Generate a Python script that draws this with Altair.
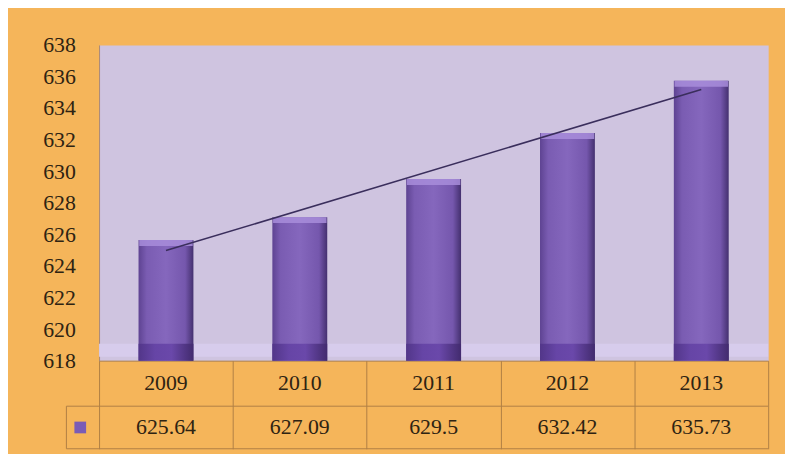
import altair as alt
import pandas as pd

# ---- data ----
years = ["2009", "2010", "2011", "2012", "2013"]
values = [625.64, 627.09, 629.5, 632.42, 635.73]
order = [1, 2, 3, 4, 5]
y_ticks = [618, 620, 622, 624, 626, 628, 630, 632, 634, 636, 638]
y_min, y_max = 618, 638

df = pd.DataFrame({
    "year": years,
    "value": values,
    "idx": order,
    "label": [f"{v:g}" for v in values],
})

W, H = 676, 319
FONT = "Liberation Serif"
TXT = "#2E2312"
GRID = "#B07F45"
ORANGE = "#F5B55A"
LAVENDER = "#CFC4E0"
ROW1 = 46      # height of the year row
ROW2 = 43      # height of the value row

base = alt.Chart(df)

x_enc = alt.X(
    "year:N",
    sort=years,
    scale=alt.Scale(paddingInner=0, paddingOuter=0),
    axis=alt.Axis(
        title=None, labels=False, domain=True, domainColor=GRID, domainWidth=1,
        ticks=True, tickBand="extent", tickSize=ROW1 + ROW2,
        tickColor=GRID, tickWidth=1,
    ),
)
y_enc = alt.Y(
    "value:Q",
    scale=alt.Scale(domain=[y_min, y_max], zero=False, nice=False),
    axis=alt.Axis(
        title=None, values=y_ticks, domain=True, domainColor="#A88A78", domainWidth=1,
        ticks=False, grid=False, labelOverlap=False,
        labelPadding=24, labelFont=FONT, labelFontSize=22, labelColor=TXT,
    ),
)

bar_fill = alt.Gradient(
    gradient="linear",
    stops=[
        alt.GradientStop(color="#5E4392", offset=0),
        alt.GradientStop(color="#7A5CB2", offset=0.15),
        alt.GradientStop(color="#8567BD", offset=0.5),
        alt.GradientStop(color="#7557AD", offset=0.85),
        alt.GradientStop(color="#44306F", offset=1),
    ],
    x1=0, x2=1, y1=0, y2=0,
)
foot_fill = alt.Gradient(
    gradient="linear",
    stops=[
        alt.GradientStop(color="#523689", offset=0),
        alt.GradientStop(color="#6645A6", offset=0.3),
        alt.GradientStop(color="#6A48AA", offset=0.6),
        alt.GradientStop(color="#422B6E", offset=1),
    ],
    x1=0, x2=1, y1=0, y2=0,
)

one = alt.Chart(pd.DataFrame({"k": [0]}))

floor = one.mark_rect(color="#D7CCEC").encode(
    x=alt.value(0), x2=alt.value(W), y=alt.value(H - 17), y2=alt.value(H - 4)
)

bars = base.mark_bar(width=alt.RelativeBandSize(0.41), fill=bar_fill).encode(
    x=x_enc, y=y_enc, y2=alt.datum(y_min)
)

feet = base.mark_bar(width=alt.RelativeBandSize(0.41), fill=foot_fill).encode(
    x=x_enc, y=alt.value(H - 17), y2=alt.value(H)
)

tops = base.mark_tick(thickness=6, size=54, yOffset=3, color="#A88DDA", opacity=0.85).encode(
    x=x_enc, y=y_enc
)

trend = (
    base.transform_regression("idx", "value")
    .transform_lookup(lookup="idx", from_=alt.LookupData(df, "idx", ["year"]))
    .mark_line(color="#3A2E5C", strokeWidth=1.6)
    .encode(x=x_enc, y=y_enc)
)

year_text = base.mark_text(font=FONT, fontSize=22, color=TXT, baseline="middle").encode(
    x=x_enc, y=alt.value(H + ROW1 / 2), text="year:N"
)
value_text = base.mark_text(font=FONT, fontSize=22, color=TXT, baseline="middle").encode(
    x=x_enc, y=alt.value(H + ROW1 + ROW2 / 2), text="label:N"
)

hline1 = one.mark_rule(color=GRID, strokeWidth=1).encode(
    x=alt.value(-33), x2=alt.value(W), y=alt.value(H + ROW1)
)
hline2 = one.mark_rule(color=GRID, strokeWidth=1).encode(
    x=alt.value(-33), x2=alt.value(W), y=alt.value(H + ROW1 + ROW2)
)
vline = one.mark_rule(color=GRID, strokeWidth=1).encode(
    x=alt.value(-33), y=alt.value(H + ROW1), y2=alt.value(H + ROW1 + ROW2)
)
key = one.mark_square(size=140, color="#7B5CB6", opacity=1).encode(
    x=alt.value(-19), y=alt.value(H + ROW1 + ROW2 / 2)
)

chart = (
    alt.layer(floor, bars, feet, tops, trend, year_text, value_text,
              hline1, hline2, vline, key)
    .properties(
        width=W, height=H,
        padding={"left": 92, "top": 35, "right": 17, "bottom": 92},
        autosize=alt.AutoSizeParams(type="none"),
        background=ORANGE,
    )
    .configure_view(fill=LAVENDER, stroke="transparent")
    .configure_axisY(labelFont=FONT, labelOverlap=False, labelFontSize=22)
)

chart.save("out.html", embed_options={"renderer": "svg", "actions": False})
